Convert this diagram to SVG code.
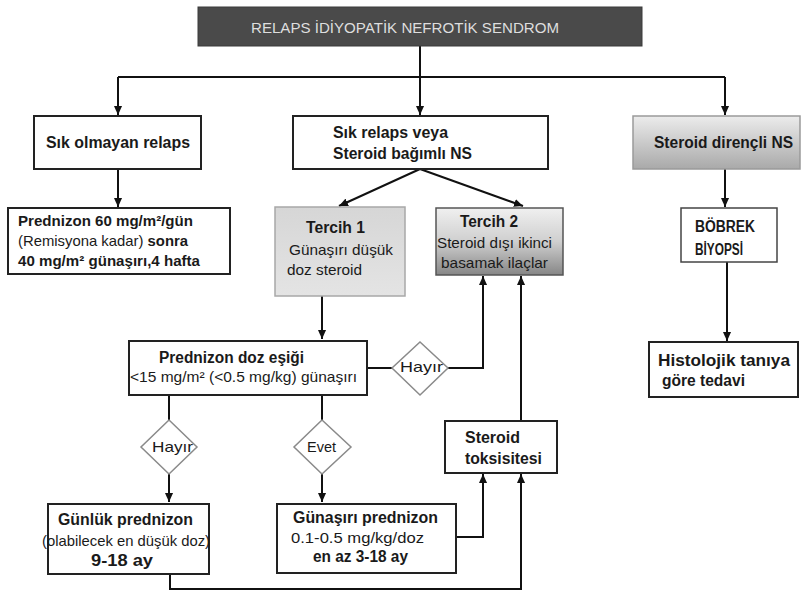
<svg xmlns="http://www.w3.org/2000/svg" width="802" height="592" viewBox="0 0 802 592">
<defs>
<style>
text{font-family:"Liberation Sans",Arial,sans-serif;fill:#1a1a1a}
.b{font-size:16px;font-weight:bold}
.n{font-size:15px;font-weight:normal}
.s{font-size:15px}
.box{fill:#fff;stroke:#222;stroke-width:2}
.dia{fill:#fff;stroke:#8a8a8a;stroke-width:1.5}
.c{fill:none;stroke:#111;stroke-width:2}
.ttl{font-size:15px;fill:#dedede}
</style>
<marker id="ah" viewBox="0 0 10 10" refX="10" refY="5" markerWidth="9" markerHeight="9" markerUnits="userSpaceOnUse" orient="auto">
<path d="M0,0.5 L10,5 L0,9.5 Z" fill="#111"/>
</marker>
<linearGradient id="gDir" x1="0" y1="0" x2="0" y2="1">
<stop offset="0" stop-color="#ececec"/>
<stop offset="1" stop-color="#a9a9a9"/>
</linearGradient>
<linearGradient id="gT1" x1="0" y1="0" x2="0" y2="1">
<stop offset="0" stop-color="#d6d6d6"/>
<stop offset="1" stop-color="#e4e4e4"/>
</linearGradient>
<linearGradient id="gT2" x1="0" y1="0" x2="0" y2="1">
<stop offset="0" stop-color="#f0f0f0"/>
<stop offset="0.5" stop-color="#cfcfcf"/>
<stop offset="1" stop-color="#868686"/>
</linearGradient>
</defs>
<rect width="802" height="592" fill="#fff"/>

<g id="connectors">
<path class="c" d="M420,46 V115" marker-end="url(#ah)"/>
<path class="c" d="M118,77 H725"/>
<path class="c" d="M118,77 V115" marker-end="url(#ah)"/>
<path class="c" d="M725,77 V115" marker-end="url(#ah)"/>
<path class="c" d="M118,169 V207" marker-end="url(#ah)"/>
<path class="c" d="M420,169 L339,206" marker-end="url(#ah)"/>
<path class="c" d="M420,169 L523,206" marker-end="url(#ah)"/>
<path class="c" d="M725,169 V207" marker-end="url(#ah)"/>
<path class="c" d="M727,262 V341" marker-end="url(#ah)"/>
<path class="c" d="M322,296 V339" marker-end="url(#ah)"/>
<path class="c" d="M367,368 H392"/>
<path class="c" d="M448,368 H483 V276" marker-end="url(#ah)"/>
<path class="c" d="M521,421 V276" marker-end="url(#ah)"/>
<path class="c" d="M169,395 V420"/>
<path class="c" d="M169,474 V502" marker-end="url(#ah)"/>
<path class="c" d="M322,395 V420"/>
<path class="c" d="M322,474 V502" marker-end="url(#ah)"/>
<path class="c" d="M456,537 H483 V474" marker-end="url(#ah)"/>
<path class="c" d="M170,574 V589 H521 V474" marker-end="url(#ah)"/>
</g>

<g id="title">
<rect x="198" y="7" width="444" height="39" fill="#4a4a4a" stroke="#3a3a3a" stroke-width="1"/>
<text class="ttl" x="251" y="32.5" textLength="308" lengthAdjust="spacingAndGlyphs">RELAPS İDİYOPATİK NEFROTİK SENDROM</text>
</g>

<g id="sik-olmayan">
<rect class="box" x="34" y="116" width="167" height="53"/>
<text class="b" x="46" y="148" textLength="144" lengthAdjust="spacingAndGlyphs">Sık olmayan relaps</text>
</g>

<g id="sik-relaps">
<rect class="box" x="293" y="116" width="255" height="53"/>
<text class="b" x="333" y="138" textLength="115" lengthAdjust="spacingAndGlyphs">Sık relaps  veya</text>
<text class="b" x="333" y="159" textLength="139" lengthAdjust="spacingAndGlyphs">Steroid bağımlı NS</text>
</g>

<g id="steroid-direncli">
<rect x="633" y="116" width="167" height="53" fill="url(#gDir)" stroke="#9a9a9a" stroke-width="1.5"/>
<text class="b" x="654" y="148" textLength="139" lengthAdjust="spacingAndGlyphs">Steroid dirençli NS</text>
</g>

<g id="prednizon60">
<rect class="box" x="8" y="208" width="222" height="66"/>
<text class="b s" x="18" y="226" textLength="175" lengthAdjust="spacingAndGlyphs">Prednizon 60 mg/m²/gün</text>
<text class="b s" x="18" y="246" textLength="170" lengthAdjust="spacingAndGlyphs"><tspan font-weight="normal">(Remisyona kadar)</tspan> sonra</text>
<text class="b s" x="18" y="266" textLength="182" lengthAdjust="spacingAndGlyphs">40 mg/m²  günaşırı,4 hafta</text>
</g>

<g id="tercih1">
<rect x="275" y="207" width="130" height="89" fill="url(#gT1)" stroke="#a8a8a8" stroke-width="1.5"/>
<text class="b" x="306" y="233" textLength="59" lengthAdjust="spacingAndGlyphs">Tercih 1</text>
<text class="n" x="289" y="255" textLength="104" lengthAdjust="spacingAndGlyphs">Günaşırı düşük</text>
<text class="n" x="287" y="275" textLength="75" lengthAdjust="spacingAndGlyphs">doz steroid</text>
</g>

<g id="tercih2">
<rect x="436" y="208" width="127" height="67" fill="url(#gT2)" stroke="#555" stroke-width="1.5"/>
<text class="b" x="460" y="227" textLength="58" lengthAdjust="spacingAndGlyphs">Tercih 2</text>
<text class="n" x="437" y="248" textLength="115" lengthAdjust="spacingAndGlyphs">Steroid dışı ikinci</text>
<text class="n" x="441" y="268" textLength="107" lengthAdjust="spacingAndGlyphs">basamak ilaçlar</text>
</g>

<g id="bobrek-biyopsi">
<rect x="681" y="208" width="96" height="54" fill="#fff" stroke="#444" stroke-width="1.5"/>
<text class="b" x="695" y="232" textLength="60" lengthAdjust="spacingAndGlyphs">BÖBREK</text>
<text class="b" x="695" y="255" textLength="48" lengthAdjust="spacingAndGlyphs">BİYOPSİ</text>
</g>

<g id="histolojik">
<rect class="box" x="649" y="342" width="149" height="55"/>
<text class="b" x="658" y="366" textLength="132" lengthAdjust="spacingAndGlyphs">Histolojik tanıya</text>
<text class="b" x="662" y="386" textLength="83" lengthAdjust="spacingAndGlyphs">göre tedavi</text>
</g>

<g id="doz-esigi">
<rect class="box" x="129" y="341" width="238" height="54"/>
<text class="b" x="159" y="363" textLength="145" lengthAdjust="spacingAndGlyphs">Prednizon doz eşiği</text>
<text class="n" x="130" y="382" textLength="227" lengthAdjust="spacingAndGlyphs">&lt;15 mg/m² (&lt;0.5 mg/kg) günaşırı</text>
</g>

<g id="hayir-sag">
<polygon class="dia" points="420,342 448,368 420,395 392,368"/>
<text class="n" x="400" y="372" textLength="43" lengthAdjust="spacingAndGlyphs">Hayır</text>
</g>

<g id="hayir-sol">
<polygon class="dia" points="169,420 197,447 169,474 141,447"/>
<text class="n" x="152" y="452" textLength="41" lengthAdjust="spacingAndGlyphs">Hayır</text>
</g>

<g id="evet">
<polygon class="dia" points="322,420 351,447 322,474 294,447"/>
<text class="n" x="307" y="452" textLength="29" lengthAdjust="spacingAndGlyphs">Evet</text>
</g>

<g id="steroid-toksisitesi">
<rect class="box" x="445" y="421" width="112" height="52"/>
<text class="b" x="465" y="443" textLength="55" lengthAdjust="spacingAndGlyphs">Steroid</text>
<text class="b" x="465" y="464" textLength="77" lengthAdjust="spacingAndGlyphs">toksisitesi</text>
</g>

<g id="gunluk-prednizon">
<rect class="box" x="48" y="504" width="161" height="70"/>
<text class="b" x="58" y="525" textLength="135" lengthAdjust="spacingAndGlyphs">Günlük prednizon</text>
<text class="n" x="42" y="546" textLength="168" lengthAdjust="spacingAndGlyphs">(olabilecek en düşük doz)</text>
<text class="b" x="91" y="566" textLength="62" lengthAdjust="spacingAndGlyphs">9-18 ay</text>
</g>

<g id="gunasiri-prednizon">
<rect class="box" x="277" y="504" width="179" height="69"/>
<text class="b" x="293" y="523" textLength="145" lengthAdjust="spacingAndGlyphs">Günaşırı prednizon</text>
<text class="n" x="291" y="543" textLength="133" lengthAdjust="spacingAndGlyphs">0.1-0.5 mg/kg/doz</text>
<text class="b" x="313" y="562" textLength="95" lengthAdjust="spacingAndGlyphs">en az 3-18 ay</text>
</g>
</svg>
